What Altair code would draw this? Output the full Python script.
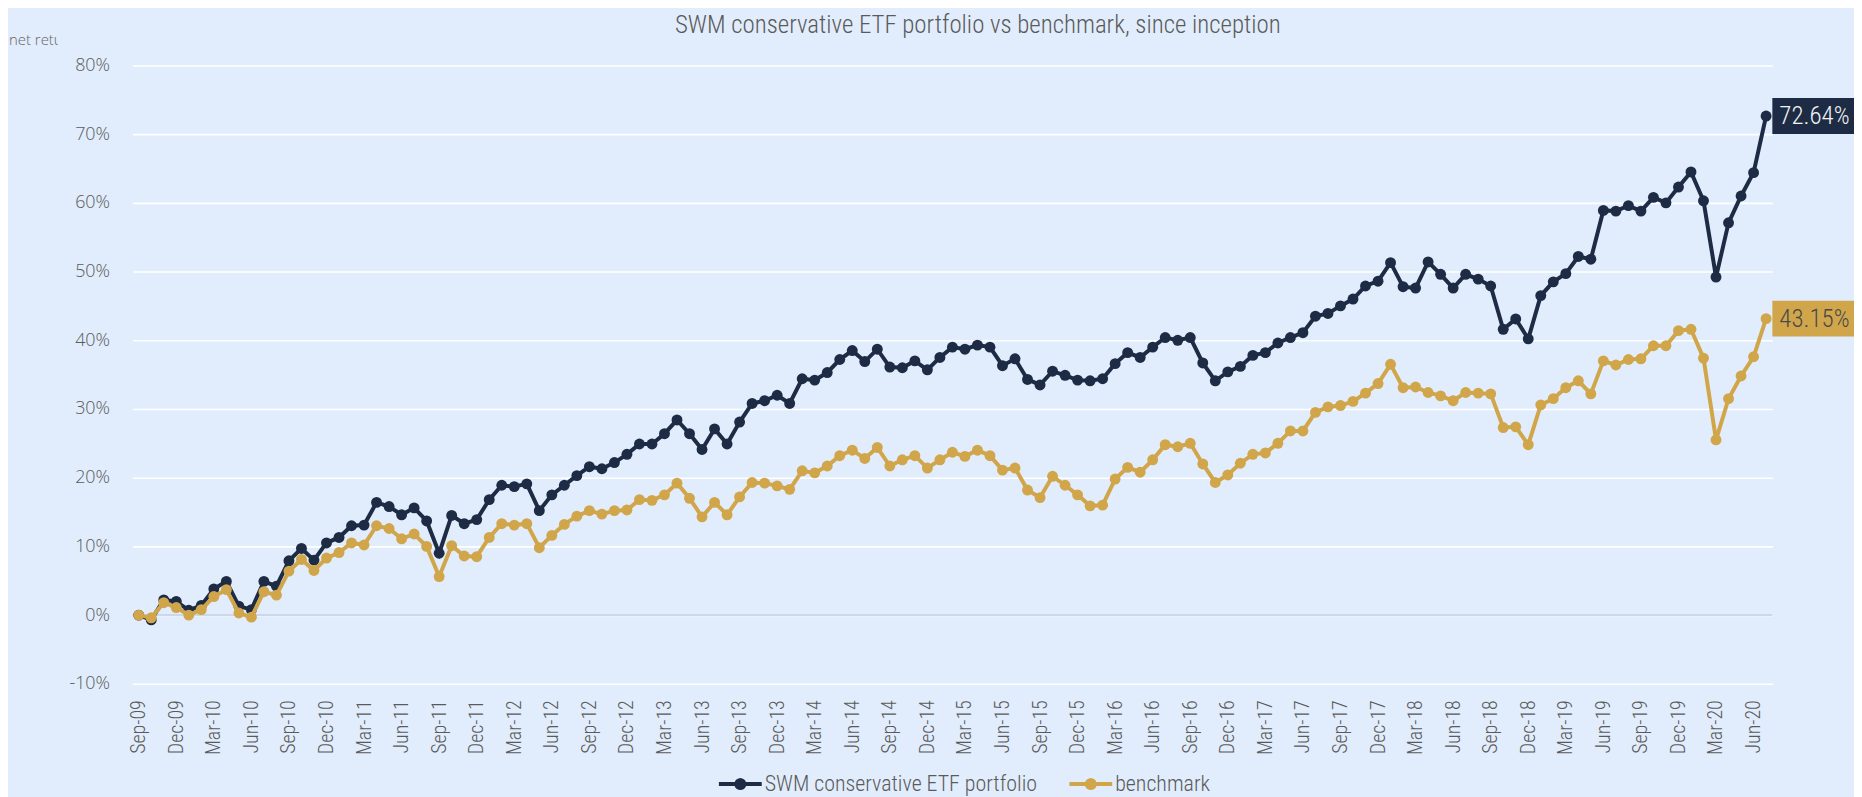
import math
import altair as alt
import pandas as pd

# ---------------- data ----------------
MONTH_NAMES = ["Jan", "Feb", "Mar", "Apr", "May", "Jun",
               "Jul", "Aug", "Sep", "Oct", "Nov", "Dec"]
months = []
_y, _m = 2009, 8
for _i in range(131):
    months.append(f"{MONTH_NAMES[_m]}-{str(_y)[2:]}")
    _m += 1
    if _m == 12:
        _m, _y = 0, _y + 1

tick_months = months[::3]  # Sep-09, Dec-09, ... Jun-20

series_names = ["SWM conservative ETF portfolio", "benchmark"]
series_colors = ["#1D2B45", "#D1A64B"]
label_text_colors = ["#F2F2F2", "#4A4A4A"]

portfolio = [
    0.0, -0.7, 2.2, 2.0, 0.7, 1.4, 3.8, 4.9, 1.3, 0.8, 4.9, 4.2,
    7.9, 9.7, 8.0, 10.5, 11.3, 13.0, 13.1, 16.4, 15.8, 14.6, 15.6, 13.7,
    9.0, 14.5, 13.3, 13.9, 16.8, 18.9, 18.7, 19.1, 15.2, 17.5, 18.9, 20.3,
    21.6, 21.3, 22.2, 23.4, 24.9, 24.9, 26.4, 28.4, 26.4, 24.1, 27.1, 24.9,
    28.1, 30.8, 31.2, 32.0, 30.8, 34.4, 34.2, 35.3, 37.2, 38.5, 36.9, 38.7,
    36.1, 36.0, 37.0, 35.7, 37.5, 39.0, 38.7, 39.3, 39.0, 36.3, 37.3, 34.3,
    33.5, 35.5, 34.9, 34.2, 34.1, 34.4, 36.6, 38.2, 37.5, 39.0, 40.4, 40.0,
    40.4, 36.7, 34.1, 35.4, 36.2, 37.8, 38.2, 39.6, 40.4, 41.1, 43.5, 43.9,
    45.0, 46.0, 47.9, 48.6, 51.3, 47.8, 47.6, 51.4, 49.6, 47.6, 49.6, 48.9,
    47.9, 41.6, 43.1, 40.2, 46.5, 48.5, 49.7, 52.2, 51.8, 58.9, 58.8, 59.6,
    58.8, 60.8, 60.0, 62.3, 64.5, 60.3, 49.2, 57.1, 61.0, 64.4, 72.64,
]

benchmark = [
    0.0, -0.4, 1.8, 1.1, 0.0, 0.8, 2.7, 3.7, 0.3, -0.3, 3.4, 2.9,
    6.4, 8.1, 6.5, 8.3, 9.1, 10.5, 10.2, 13.0, 12.6, 11.1, 11.8, 10.0,
    5.6, 10.1, 8.6, 8.5, 11.3, 13.3, 13.1, 13.3, 9.8, 11.6, 13.2, 14.4,
    15.2, 14.7, 15.2, 15.3, 16.8, 16.7, 17.5, 19.2, 17.0, 14.3, 16.4, 14.6,
    17.2, 19.3, 19.2, 18.8, 18.3, 21.0, 20.7, 21.7, 23.2, 24.0, 22.8, 24.4,
    21.7, 22.6, 23.2, 21.4, 22.6, 23.7, 23.1, 24.0, 23.2, 21.1, 21.4, 18.2,
    17.1, 20.2, 18.9, 17.5, 15.9, 16.0, 19.8, 21.5, 20.8, 22.6, 24.8, 24.5,
    25.0, 22.0, 19.3, 20.4, 22.1, 23.4, 23.6, 25.0, 26.8, 26.8, 29.5, 30.3,
    30.5, 31.1, 32.3, 33.7, 36.5, 33.1, 33.2, 32.4, 31.9, 31.2, 32.4, 32.3,
    32.2, 27.3, 27.4, 24.8, 30.6, 31.5, 33.1, 34.1, 32.2, 37.0, 36.4, 37.2,
    37.3, 39.2, 39.2, 41.4, 41.6, 37.4, 25.5, 31.5, 34.8, 37.6, 43.15,
]

y_ticks = [-10, 0, 10, 20, 30, 40, 50, 60, 70, 80]

TITLE = "SWM conservative ETF portfolio vs benchmark, since inception"
Y_TITLE = "net return"

# ---------------- tables ----------------
rows = []
for s, vals in zip(series_names, [portfolio, benchmark]):
    for mo, v in zip(months, vals):
        rows.append({"month": mo, "series": s, "value": v})
df = pd.DataFrame(rows)

end_vals = [portfolio[-1], benchmark[-1]]
labels_df = pd.DataFrame({
    "series": series_names,
    "value": end_vals,
    "text": [f"{v:.2f}%" for v in end_vals],
})

# ---------------- style ----------------
BG = "#E1EDFC"
W, H = 1647, 621
COND = "Roboto Condensed, Liberation Sans Narrow, DejaVu Sans Condensed, sans-serif"
TXT = "#5A5A5A"

# legend symbol: a bar with a dot in the middle (polygon circle)
_r, _t = 0.28, 0.093
_circ = " ".join(
    f"{'M' if k == 0 else 'L'}{_r * math.cos(2 * math.pi * k / 20):.3f},{_r * math.sin(2 * math.pi * k / 20):.3f}"
    for k in range(20)
) + " Z"
LEG_SYMBOL = f"M-1,-{_t} L1,-{_t} L1,{_t} L-1,{_t} Z {_circ}"

x_enc = alt.X(
    "month:O", sort=months,
    scale=alt.Scale(type="point", padding=0.5),
    axis=alt.Axis(values=tick_months, labelAngle=270, title=None,
                  labelFont=COND, labelFontWeight=300, labelFontSize=20,
                  labelColor=TXT, labelPadding=16, domain=False, ticks=False,
                  grid=False, labelOverlap=False),
)
y_scale = alt.Scale(domain=[-10, 80], nice=False, zero=False)
y_enc = alt.Y(
    "value:Q", scale=y_scale,
    axis=alt.Axis(values=y_ticks, title=None, labelExpr="datum.value + '%'",
                  labelFont="Open Sans", labelFontWeight=300, labelFontSize=18,
                  labelColor=TXT, labelPadding=23, domain=False, ticks=False,
                  grid=True, gridColor="#FFFFFF", gridWidth=1.6),
)

col_scale = alt.Scale(domain=series_names, range=series_colors)

zero_rule = alt.Chart(alt.Data(values=[{"v": 0}])).mark_rule(
    color="#CCD8E8", strokeWidth=2
).encode(y=alt.Y("v:Q", scale=y_scale))

legend = alt.Legend(
    title=None, orient="none", direction="horizontal",
    legendX=589, legendY=700,
    symbolType=LEG_SYMBOL, symbolSize=1849, symbolStrokeWidth=0,
    labelFont=COND, labelFontWeight=300, labelFontSize=22, labelColor=TXT,
    labelOffset=3, labelLimit=600, columnPadding=32,
)

layers = [zero_rule]
for s, c in zip(series_names, series_colors):
    base = alt.Chart(df).transform_filter(alt.datum.series == s)
    line = base.mark_line(strokeWidth=4, color=c).encode(x=x_enc, y=y_enc)
    pts = base.mark_point(filled=True, size=120, opacity=1).encode(
        x=x_enc, y=y_enc,
        fill=alt.Fill("series:N", scale=col_scale, legend=legend),
    )
    layers += [line, pts]

for s, bc, tc in zip(series_names, series_colors, label_text_colors):
    lb = alt.Chart(labels_df).transform_filter(alt.datum.series == s)
    layers.append(
        lb.mark_rect(yOffset=-18, y2Offset=18, color=bc).encode(
            x=alt.value(W), x2=alt.value(W + 82),
            y=alt.Y("value:Q", scale=y_scale), y2="value:Q",
        )
    )
    layers.append(
        lb.mark_text(align="left", baseline="middle", font=COND,
                     fontWeight=300, fontSize=25, color=tc).encode(
            x=alt.value(W + 7),
            y=alt.Y("value:Q", scale=y_scale),
            text="text:N",
        )
    )

one = alt.Data(values=[{"a": 1}])
title_mark = alt.Chart(one).mark_text(
    align="center", baseline="alphabetic", font=COND, fontWeight=300,
    fontSize=25, color=TXT
).encode(x=alt.value(849), y=alt.value(-33), text=alt.value(TITLE))

ytitle_mark = alt.Chart(one).mark_text(
    align="left", baseline="alphabetic", font="Open Sans", fontSize=15,
    fontWeight=300, color="#666666"
).encode(x=alt.value(-124), y=alt.value(-21), text=alt.value(Y_TITLE))

ytitle_mask = alt.Chart(one).mark_rect(color=BG).encode(
    x=alt.value(-75), x2=alt.value(-30), y=alt.value(-38), y2=alt.value(-12)
)

layers += [title_mark, ytitle_mark, ytitle_mask]

chart = alt.layer(*layers).properties(
    width=W, height=H,
    autosize=alt.AutoSizeParams(type="none"),
    padding={"left": 125, "top": 56, "right": 82, "bottom": 112},
    background=BG,
).configure_view(stroke=None, fill=BG)

chart.save("out.html", embed_options={"renderer": "svg", "actions": False})
